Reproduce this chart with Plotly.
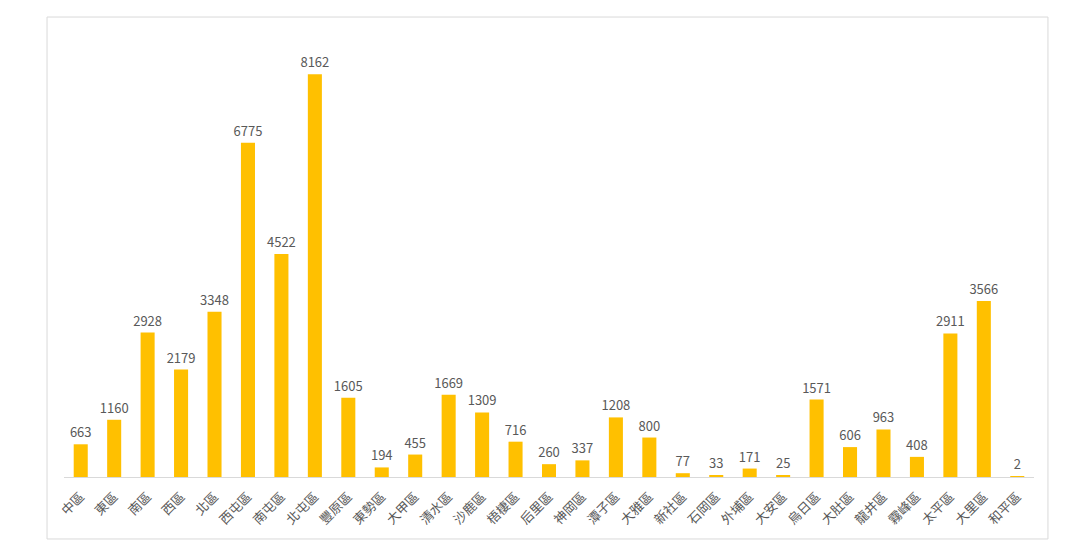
import plotly.graph_objects as go

districts = ["中區", "東區", "南區", "西區", "北區", "西屯區", "南屯區", "北屯區", "豐原區", "東勢區",
             "大甲區", "清水區", "沙鹿區", "梧棲區", "后里區", "神岡區", "潭子區", "大雅區", "新社區", "石岡區",
             "外埔區", "大安區", "烏日區", "大肚區", "龍井區", "霧峰區", "太平區", "大里區", "和平區"]
counts = [663, 1160, 2928, 2179, 3348, 6775, 4522, 8162, 1605, 194,
          455, 1669, 1309, 716, 260, 337, 1208, 800, 77, 33,
          171, 25, 1571, 606, 963, 408, 2911, 3566, 2]

fig = go.Figure(go.Bar(
    x=districts, y=counts,
    marker=dict(color="#FFC000", line=dict(width=0)),
    text=[str(v) for v in counts], textposition="outside", cliponaxis=False,
    textfont=dict(size=13, color="#595959", family="Noto Sans CJK TC, sans-serif"),
))

fig.update_layout(
    width=1080, height=557,
    margin=dict(l=56, r=54, t=25, b=88),
    paper_bgcolor="white", plot_bgcolor="white",
    bargap=0.58, showlegend=False,
    uniformtext=dict(minsize=13, mode="show"),
    font=dict(family="Noto Sans CJK TC, sans-serif", color="#595959"),
    xaxis=dict(tickangle=-45, showline=True, linecolor="#D9D9D9", linewidth=1,
               ticks="", tickfont=dict(size=13, color="#595959"), showgrid=False,
               ticklabelstandoff=6),
    yaxis=dict(range=[0, 9000], visible=False, showgrid=False),
    shapes=[dict(type="rect", xref="paper", yref="paper",
                 x0=-0.0175, x1=1.0144, y0=-0.1396, y1=1.036,
                 line=dict(color="#D9D9D9", width=1), fillcolor="rgba(0,0,0,0)")],
)

fig.write_html("out.html")
